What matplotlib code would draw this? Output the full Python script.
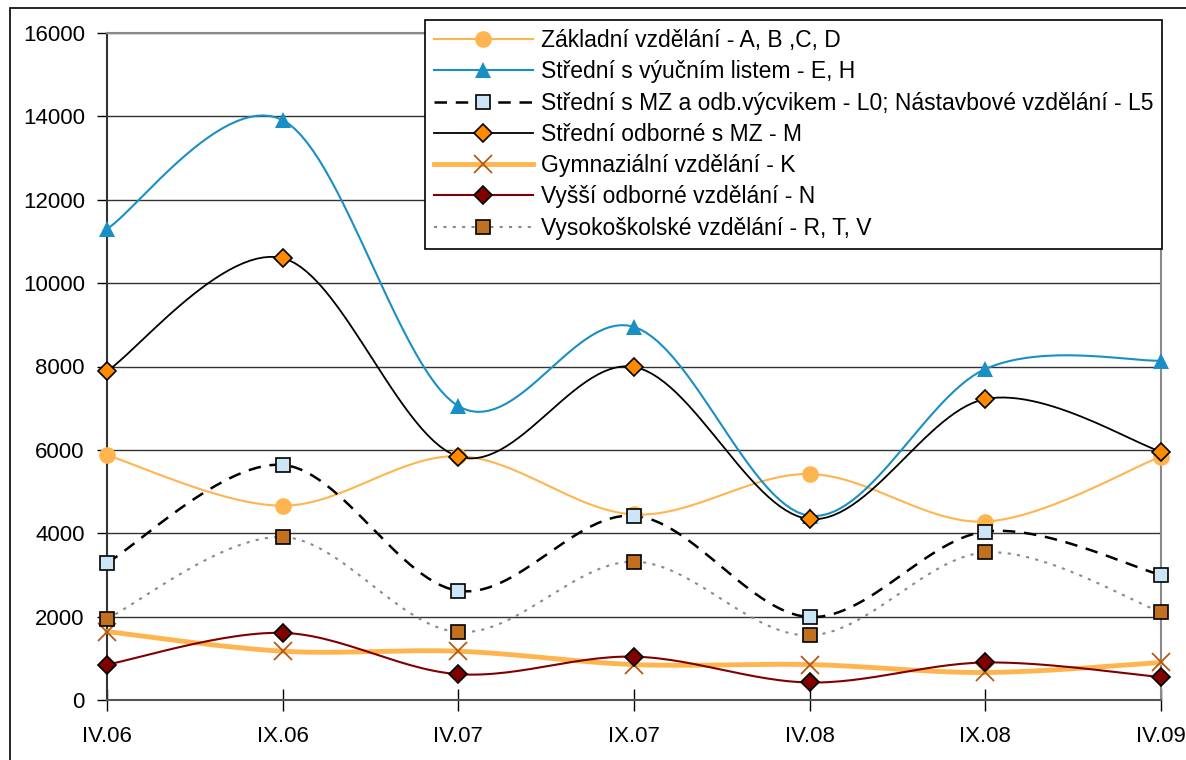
import matplotlib.pyplot as plt
import numpy as np
from matplotlib.patches import Rectangle
from matplotlib.lines import Line2D

plt.rcParams['font.family'] = ['Liberation Sans', 'DejaVu Sans']

periods = ['IV.06', 'IX.06', 'IV.07', 'IX.07', 'IV.08', 'IX.08', 'IV.09']

zakladni = [5870, 4660, 5850, 4450, 5420, 4280, 5840]
vyucni = [11300, 13910, 7050, 8950, 4420, 7940, 8140]
mz_odb = [3290, 5640, 2620, 4420, 1990, 4040, 3000]
odborne_mz = [7890, 10600, 5840, 7990, 4340, 7220, 5960]
gymnazium = [1640, 1170, 1170, 850, 850, 660, 900]
vyssi_odb = [850, 1610, 620, 1040, 420, 900, 550]
vysokoskolske = [1950, 3910, 1630, 3320, 1550, 3540, 2110]

labels = [
    'Základní vzdělání - A, B ,C, D',
    'Střední s výučním listem - E, H',
    'Střední s MZ a odb.výcvikem - L0; Nástavbové vzdělání - L5',
    'Střední odborné s MZ - M',
    'Gymnaziální vzdělání - K',
    'Vyšší odborné vzdělání - N',
    'Vysokoškolské vzdělání - R, T, V',
]


def smooth(y, steps=30):
    # Excel-like smoothed line (Catmull-Rom Bezier)
    y = np.asarray(y, dtype=float)
    x = np.arange(len(y), dtype=float)
    pts = np.column_stack([x, y])
    out = []
    n = len(pts)
    t = np.linspace(0, 1, steps)[:, None]
    for i in range(n - 1):
        p0 = pts[max(i - 1, 0)]
        p1 = pts[i]
        p2 = pts[i + 1]
        p3 = pts[min(i + 2, n - 1)]
        c1 = p1 + (p2 - p0) / 6
        c2 = p2 - (p3 - p1) / 6
        seg = ((1 - t) ** 3) * p1 + 3 * ((1 - t) ** 2) * t * c1 + 3 * (1 - t) * t ** 2 * c2 + t ** 3 * p2
        out.append(seg if i == 0 else seg[1:])
    out = np.vstack(out)
    return out[:, 0], out[:, 1]


series = [
    dict(y=zakladni, color='#FFB54F', lw=1.5, ls='-', marker='o', ms=12, mfc='#FFB54F', mec='#FFB54F', mew=0),
    dict(y=vyucni, color='#1A8FC4', lw=1.5, ls='-', marker='^', ms=11, mfc='#1A8FC4', mec='#1A8FC4', mew=0),
    dict(y=mz_odb, color='black', lw=1.8, ls=(0, (5, 3.5)), marker='s', ms=10, mfc='#CCE6F6', mec='black', mew=1.2),
    dict(y=odborne_mz, color='black', lw=1.3, ls='-', marker='D', ms=9, mfc='#FF8A00', mec='black', mew=1.2),
    dict(y=gymnazium, color='#FFB54F', lw=3.5, ls='-', marker='x', ms=13, mfc='#B35A1A', mec='#B35A1A', mew=1.3),
    dict(y=vyssi_odb, color='#800000', lw=1.5, ls='-', marker='D', ms=9, mfc='#800000', mec='black', mew=1.2),
    dict(y=vysokoskolske, color='#8A8A8A', lw=1.5, ls=(0, (1.5, 3)), marker='s', ms=10, mfc='#C0701E', mec='black', mew=1.2),
]

fig = plt.figure(figsize=(11.86, 7.6), dpi=100)
ax = fig.add_axes([107 / 1186, 60 / 760, (1161 - 107) / 1186, (700 - 33) / 760])

fig.patches.append(Rectangle((10 / 1186, -0.05), 1.2, 1.05 - 8 / 760, transform=fig.transFigure,
                             fill=False, edgecolor='black', linewidth=1.2, zorder=0))

handles = []
for i, s in enumerate(series):
    xs, ys = smooth(s['y'])
    ax.plot(xs, ys, color=s['color'], lw=s['lw'], ls=s['ls'], zorder=3 + i, clip_on=False)
    ax.plot(range(len(periods)), s['y'], ls='none', marker=s['marker'], ms=s['ms'],
            mfc=s['mfc'], mec=s['mec'], mew=s['mew'], zorder=10 + i, clip_on=False)
    handles.append(Line2D([], [], color=s['color'], lw=s['lw'], ls=s['ls'], marker=s['marker'],
                          ms=s['ms'], mfc=s['mfc'], mec=s['mec'], mew=s['mew']))

ax.set_xlim(0, len(periods) - 1)
ax.set_ylim(0, 16000)
ax.set_xticks(range(len(periods)))
ax.set_xticklabels(periods)
ax.set_yticks(range(0, 16001, 2000))
ax.yaxis.grid(True, color='#333333', lw=1)
ax.set_axisbelow(True)

for side in ['top', 'right']:
    ax.spines[side].set_color('#8A8A8A')
    ax.spines[side].set_linewidth(1.5)
ax.spines['left'].set_color('#333333')
ax.spines['left'].set_linewidth(1.5)
ax.spines['bottom'].set_color('#555555')
ax.spines['bottom'].set_linewidth(1.5)

ax.tick_params(axis='y', direction='out', length=7, width=1, pad=9, labelsize=16, colors='black')
ax.tick_params(axis='x', direction='inout', length=16, width=1, pad=11, labelsize=16, colors='black')

leg = fig.legend(handles, labels, loc='upper left', bbox_to_anchor=(425 / 1186, 1 - 20 / 760),
                 fontsize=16.5, handlelength=4.3, labelspacing=0.36, handletextpad=0.35,
                 borderpad=0.4, borderaxespad=0, frameon=True, fancybox=False, framealpha=1)
leg.get_frame().set_edgecolor('black')
leg.get_frame().set_linewidth(1.2)
leg.set_zorder(30)

plt.savefig('out.png', dpi=100)
plt.close()
